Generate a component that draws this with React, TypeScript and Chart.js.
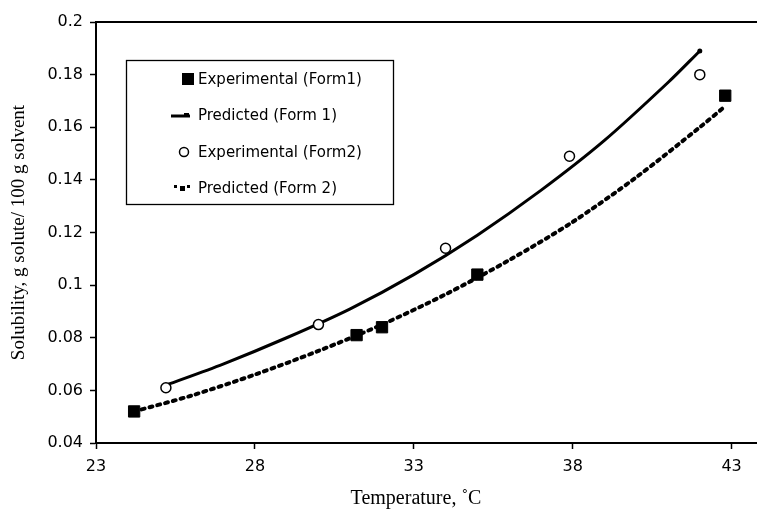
import { useEffect, useRef } from "react";
import { Chart, registerables } from "chart.js";

Chart.register(...registerables);

// Experimental data (Form1: filled squares, Form2: open circles)
const exp1Temp = [24.2, 31.2, 32.0, 35.0, 42.8];
const exp1Sol = [0.052, 0.081, 0.084, 0.104, 0.172];
const exp2Temp = [25.2, 30.0, 34.0, 37.9, 42.0];
const exp2Sol = [0.061, 0.085, 0.114, 0.149, 0.18];

// Predicted curves
const pred1Temp = [25.2, 27, 29, 31, 33, 35, 37, 39, 41, 42];
const pred1Sol = [0.062, 0.07, 0.08, 0.091, 0.104, 0.119, 0.136, 0.155, 0.177, 0.189];
const pred2Temp = [24.2, 26, 28, 30, 32, 34, 36, 38, 40, 42, 42.8];
const pred2Sol = [0.052, 0.058, 0.066, 0.075, 0.085, 0.0965, 0.1095, 0.124, 0.141, 0.16, 0.168];

const xTicks = [23, 28, 33, 38, 43];
const yTicks = [0.04, 0.06, 0.08, 0.1, 0.12, 0.14, 0.16, 0.18, 0.2];
const yTickLabels = ["0.04", "0.06", "0.08", "0.1", "0.12", "0.14", "0.16", "0.18", "0.2"];

const legendLabels = [
  "Experimental (Form1)",
  "Predicted (Form 1)",
  "Experimental (Form2)",
  "Predicted (Form 2)",
];

const xTitle = "Temperature, \u02DAC";
const yTitle = "Solubility, g solute/ 100 g solvent";

const toPts = (xs: number[], ys: number[]) => xs.map((x, i) => ({ x, y: ys[i] }));

const overlayPlugin = {
  id: "overlay",
  afterDraw(chart: any) {
    const ctx = chart.ctx as CanvasRenderingContext2D;
    const a = chart.chartArea;
    ctx.save();
    // top frame line
    ctx.strokeStyle = "#000";
    ctx.lineWidth = 2;
    ctx.beginPath();
    ctx.moveTo(a.left, a.top);
    ctx.lineTo(chart.width, a.top);
    ctx.stroke();

    // x-axis title
    ctx.fillStyle = "#000";
    ctx.font = "20px 'Liberation Serif'";
    ctx.textAlign = "center";
    ctx.textBaseline = "middle";
    ctx.fillText(xTitle, 416, 499);

    // legend box
    ctx.lineWidth = 1.3;
    ctx.strokeRect(126.5, 60.5, 267, 144);
    const rows = [79, 115, 152, 188];
    ctx.font = "15px 'DejaVu Sans'";
    ctx.textAlign = "left";
    legendLabels.forEach((t, i) => ctx.fillText(t, 198, rows[i] + 1));

    // marker 0: filled square
    ctx.fillRect(182, rows[0] - 6, 12, 12);
    // marker 1: thick line with small end marker
    ctx.lineWidth = 3;
    ctx.beginPath();
    ctx.moveTo(171, rows[1] + 1);
    ctx.lineTo(190, rows[1] + 1);
    ctx.stroke();
    ctx.fillRect(184, rows[1] - 2, 5, 4);
    // marker 2: open circle
    ctx.lineWidth = 1.5;
    ctx.beginPath();
    ctx.arc(184, rows[2], 4.5, 0, Math.PI * 2);
    ctx.stroke();
    // marker 3: dots
    ctx.fillRect(174, rows[3] - 3, 3, 3);
    ctx.fillRect(180, rows[3] - 2, 5, 5);
    ctx.fillRect(187, rows[3] - 3, 3, 3);
    ctx.restore();
  },
};

export default function App() {
  const ref = useRef<HTMLCanvasElement | null>(null);

  useEffect(() => {
    if (!ref.current) return;
    const last1 = pred1Temp.length - 1;
    const chart = new Chart(ref.current, {
      type: "scatter",
      data: {
        datasets: [
          {
            label: legendLabels[0],
            data: toPts(exp1Temp, exp1Sol),
            pointStyle: "rect",
            pointRadius: 8,
            backgroundColor: "#000",
            borderColor: "#000",
            borderWidth: 1,
            order: 1,
          },
          {
            label: legendLabels[2],
            data: toPts(exp2Temp, exp2Sol),
            pointStyle: "circle",
            pointRadius: 5,
            backgroundColor: "#fff",
            borderColor: "#000",
            borderWidth: 1.5,
            order: 1,
          },
          {
            label: legendLabels[1],
            data: toPts(pred1Temp, pred1Sol),
            showLine: true,
            borderColor: "#000",
            backgroundColor: "#000",
            borderWidth: 3,
            tension: 0.3,
            pointRadius: pred1Temp.map((_, i) => (i === last1 ? 2.5 : 0)),
            pointBorderWidth: 0,
            order: 2,
          },
          {
            label: legendLabels[3],
            data: toPts(pred2Temp, pred2Sol),
            showLine: true,
            borderColor: "#000",
            backgroundColor: "#000",
            borderWidth: 4,
            borderDash: [3, 5],
            borderCapStyle: "round",
            tension: 0.3,
            pointRadius: 0,
            order: 2,
          },
        ],
      },
      options: {
        animation: false,
        responsive: false,
        maintainAspectRatio: false,
        layout: { autoPadding: false, padding: { top: 22, right: 0, bottom: 0, left: 0 } },
        plugins: {
          legend: { display: false },
          tooltip: { enabled: false },
        },
        scales: {
          x: {
            type: "linear",
            min: 23,
            max: 43.8,
            afterBuildTicks: (s: any) => {
              s.ticks = xTicks.map((v) => ({ value: v }));
            },
            afterFit: (s: any) => {
              s.height = 69;
              s.paddingLeft = 0;
              s.paddingRight = 0;
            },
            ticks: {
              color: "#000",
              font: { family: "DejaVu Sans", size: 16 },
              padding: 8,
              autoSkip: false,
              maxRotation: 0,
              callback: (v: any) => String(v),
            },
            grid: {
              drawOnChartArea: false,
              drawTicks: true,
              tickLength: 6,
              tickColor: "#000",
              tickWidth: 1.5,
            },
            border: { display: true, color: "#000", width: 2 },
            title: { display: false, text: xTitle },
          },
          y: {
            type: "linear",
            min: 0.04,
            max: 0.2,
            afterBuildTicks: (s: any) => {
              s.ticks = yTicks.map((v) => ({ value: v }));
            },
            afterFit: (s: any) => {
              s.width = 96;
              s.paddingTop = 0;
              s.paddingBottom = 0;
            },
            ticks: {
              color: "#000",
              font: { family: "DejaVu Sans", size: 16 },
              padding: 7,
              autoSkip: false,
              callback: (_v: any, i: number) => yTickLabels[i],
            },
            grid: {
              drawOnChartArea: false,
              drawTicks: true,
              tickLength: 6,
              tickColor: "#000",
              tickWidth: 1.5,
            },
            border: { display: true, color: "#000", width: 2 },
            title: {
              display: true,
              text: yTitle,
              color: "#000",
              font: { family: "Liberation Serif", size: 19 },
              padding: { top: 8, bottom: 0 },
            },
          },
        },
      },
      plugins: [overlayPlugin],
    } as any);
    return () => chart.destroy();
  }, []);

  return (
    <div style={{ position: "absolute", left: 0, top: 0, width: 757, height: 512, background: "#fff" }}>
      <canvas ref={ref} width={757} height={512} style={{ display: "block" }} />
    </div>
  );
}
